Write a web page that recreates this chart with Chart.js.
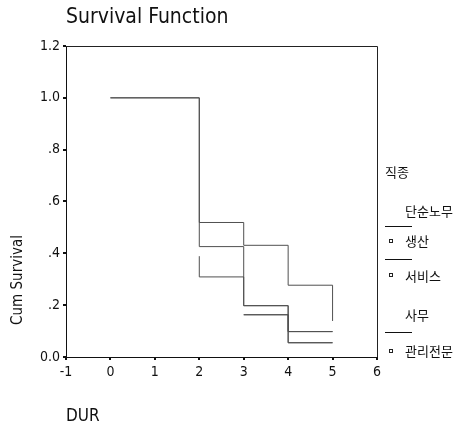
<!DOCTYPE html>
<html>
<head>
<meta charset="utf-8">
<script src="https://cdn.jsdelivr.net/npm/chart.js@4/dist/chart.umd.min.js"></script>
<style>
    html, body { margin: 0; padding: 0; background: #fff; }
    #wrap { width: 465px; height: 433px; }
</style>
</head>
<body>
<div id="wrap"><canvas id="chart" width="465" height="433"></canvas></div>
<script>
// groups (직종) and their step points: duration / cumulative survival
const groupNames = ['단순노무', '생산', '서비스', '사무', '관리전문'];

const durSimple = [0, 2, 3, 4, 5];
const survSimple = [1.0, 0.519, 0.431, 0.277, 0.139];

const durProduction = [0, 2, 3, 4, 5];
const survProduction = [1.0, 0.426, 0.198, 0.098, 0.098];

const durService = [2, 2, 3, 4, 5];
const survService = [0.389, 0.309, 0.198, 0.055, 0.055];

const durOffice = [3, 4, 5];
const survOffice = [0.163, 0.055, 0.055];

const durManager = [3, 4, 5];
const survManager = [0.163, 0.098, 0.098];

const xTicks = [-1, 0, 1, 2, 3, 4, 5, 6];
const yTickLabels = ['0.0', '.2', '.4', '.6', '.8', '1.0', '1.2'];

const narrow = '"Liberation Sans Narrow", "Arial Narrow", "DejaVu Sans Condensed", sans-serif';
const korean = '"Noto Sans CJK KR", sans-serif';
const lineColor = '#505050';

function toPoints(durs, survs) {
    const pts = [];
    for (let i = 0; i < durs.length; i++) {
        pts.push({ x: durs[i], y: survs[i] });
    }
    return pts;
}

const series = [
    [durSimple, survSimple],
    [durProduction, survProduction],
    [durService, survService],
    [durOffice, survOffice],
    [durManager, survManager]
];

// 'before' in chart.js = run flat to the next time, then drop
const datasets = series.map(function (s, i) {
    return {
        label: groupNames[i],
        data: toPoints(s[0], s[1]),
        stepped: 'before',
        borderColor: lineColor,
        borderWidth: 1,
        pointRadius: 0,
        fill: false
    };
});

// frame, titles and the group legend on the right
const decorations = {
    id: 'decorations',
    afterDraw(chart) {
        const ctx = chart.ctx;
        const a = chart.chartArea;
        ctx.save();

        ctx.strokeStyle = '#222';
        ctx.lineWidth = 1;
        ctx.beginPath();
        ctx.moveTo(a.left, a.top + 0.5);
        ctx.lineTo(a.right + 0.5, a.top + 0.5);
        ctx.lineTo(a.right + 0.5, a.bottom);
        ctx.stroke();

        ctx.fillStyle = '#111';
        ctx.textBaseline = 'middle';
        ctx.textAlign = 'left';
        ctx.font = '21px ' + narrow;
        ctx.fillText('Survival Function', 66, 18);

        ctx.font = '17px ' + narrow;
        ctx.fillText('DUR', 66, 417);

        ctx.save();
        ctx.translate(18, 280);
        ctx.rotate(-Math.PI / 2);
        ctx.textAlign = 'center';
        ctx.font = '15px ' + narrow;
        ctx.fillText('Cum Survival', 0, 0);
        ctx.restore();

        // legend
        ctx.font = '13px ' + korean;
        ctx.fillText('직종', 385, 172);
        ctx.fillText(groupNames[0], 405, 211);
        ctx.fillText(groupNames[1], 405, 241);
        ctx.fillText(groupNames[2], 405, 276);
        ctx.fillText(groupNames[3], 405, 315);
        ctx.fillText(groupNames[4], 405, 351);

        ctx.strokeStyle = '#111';
        ctx.beginPath();
        [226, 259, 332].forEach(function (y) {
            ctx.moveTo(385, y + 0.5);
            ctx.lineTo(412, y + 0.5);
        });
        ctx.stroke();

        ctx.strokeStyle = '#222';
        [239, 273, 349].forEach(function (y) {
            ctx.strokeRect(389.5, y + 0.5, 3, 3);
        });

        ctx.restore();
    }
};

new Chart(document.getElementById('chart'), {
    type: 'line',
    data: { datasets: datasets },
    plugins: [decorations],
    options: {
        responsive: false,
        animation: false,
        layout: { padding: { top: 46, right: 88, left: 0, bottom: 0 } },
        plugins: {
            legend: { display: false },
            tooltip: { enabled: false }
        },
        scales: {
            x: {
                type: 'linear',
                min: xTicks[0],
                max: xTicks[xTicks.length - 1],
                afterBuildTicks(scale) {
                    scale.ticks = xTicks.map(v => ({ value: v }));
                },
                afterFit(scale) { scale.height = 76; },
                ticks: {
                    color: '#111',
                    font: { family: narrow, size: 14 },
                    padding: 4,
                    callback: v => String(v)
                },
                grid: {
                    drawOnChartArea: false,
                    drawTicks: true,
                    tickLength: 3,
                    color: '#111',
                    lineWidth: 2
                },
                border: { color: '#111', width: 1 }
            },
            y: {
                type: 'linear',
                min: 0,
                max: 1.2,
                afterBuildTicks(scale) {
                    scale.ticks = yTickLabels.map((t, i) => ({ value: i * 0.2 }));
                },
                afterFit(scale) { scale.width = 66; },
                ticks: {
                    color: '#111',
                    font: { family: narrow, size: 14 },
                    padding: 3,
                    callback: (v, i) => yTickLabels[i]
                },
                grid: {
                    drawOnChartArea: false,
                    drawTicks: true,
                    tickLength: 3,
                    color: '#111',
                    lineWidth: 2
                },
                border: { color: '#111', width: 1 }
            }
        }
    }
});
</script>
</body>
</html>
